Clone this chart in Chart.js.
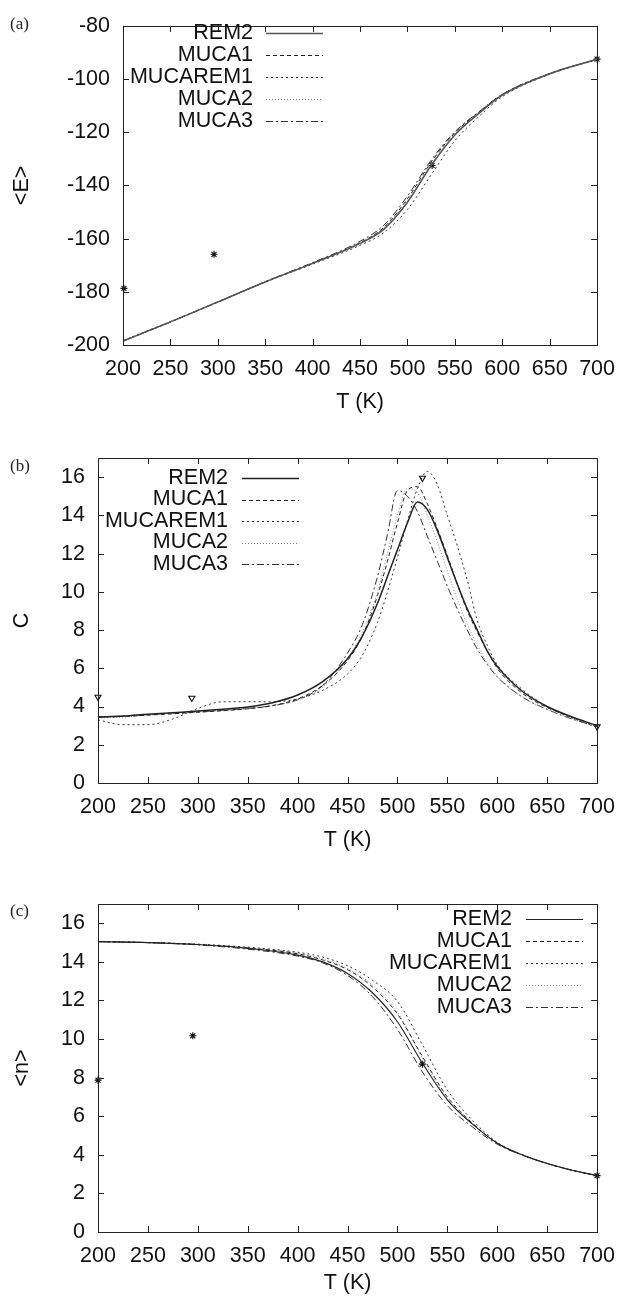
<!DOCTYPE html>
<html>
<head>
<meta charset="utf-8">
<script src="https://cdn.jsdelivr.net/npm/chart.js@4.4.1/dist/chart.umd.min.js"></script>
<style>
body { margin: 0; background: #fff; width: 626px; height: 1296px; position: relative; overflow: hidden; }
canvas { position: absolute; left: 0; }
.tag { position: absolute; left: 10px; font-family: "Liberation Serif", "DejaVu Serif", serif; font-size: 17px; color: #222; }
</style>
</head>
<body>
<canvas id="panel_a" width="626" height="420" style="top:0px"></canvas>
<canvas id="panel_b" width="626" height="440" style="top:420px"></canvas>
<canvas id="panel_c" width="626" height="436" style="top:860px"></canvas>
<div class="tag" style="top:14px">(a)</div>
<div class="tag" style="top:456px">(b)</div>
<div class="tag" style="top:901px">(c)</div>
<script>
// ---- (a) mean energy <E> ----
const tempA = [200, 250, 300, 350, 400, 450, 475, 500, 525, 550, 575, 600, 650, 700];
const eRem2     = [-198.5, -191.3, -183.8, -176.3, -169.3, -161.8, -156.5, -146.3, -132.5, -121.0, -113.0, -106.0, -98.0, -92.5];
const eMuca1    = [-198.5, -191.3, -183.8, -176.2, -169.2, -161.5, -155.8, -145.0, -131.2, -120.2, -112.6, -105.8, -98.0, -92.5];
const eMucarem1 = [-198.3, -191.2, -183.8, -176.4, -169.6, -162.5, -157.8, -149.0, -136.0, -123.2, -114.2, -106.6, -98.2, -92.6];
const eMuca2    = [-198.6, -191.4, -183.9, -176.3, -169.3, -161.6, -156.0, -145.5, -132.0, -120.6, -112.8, -105.9, -98.0, -92.5];
const eMuca3    = [-198.6, -191.4, -183.9, -176.2, -169.0, -161.0, -155.0, -144.0, -130.5, -119.8, -112.4, -105.7, -97.9, -92.5];
const markTA = [201, 296, 526, 700];
const markE  = [-178.7, -165.9, -132.5, -92.5];

// ---- (b) specific heat C ----
const tempB = [200, 225, 250, 275, 300, 325, 350, 375, 400, 425, 450, 465, 480, 490, 500, 510, 520, 530, 540, 550, 560, 570, 580, 590, 600, 625, 650, 675, 700];
const cRem2     = [3.45, 3.5, 3.6, 3.68, 3.76, 3.86, 3.98, 4.2, 4.6, 5.3, 6.5, 7.7, 9.4, 10.8, 12.2, 13.6, 14.7, 14.3, 13.2, 11.8, 10.4, 9.1, 8.0, 6.9, 6.1, 4.8, 4.0, 3.45, 3.0];
const cMuca1    = [3.45, 3.48, 3.55, 3.62, 3.7, 3.78, 3.88, 4.05, 4.4, 5.1, 6.4, 7.7, 9.8, 11.6, 13.6, 15.3, 15.5, 14.6, 13.3, 11.9, 10.4, 9.0, 7.9, 6.9, 6.0, 4.7, 3.95, 3.45, 3.0];
const cMucarem1 = [3.3, 3.05, 3.05, 3.35, 3.9, 4.25, 4.25, 4.25, 4.4, 4.85, 5.7, 6.7, 8.4, 10.0, 11.8, 13.7, 15.4, 16.3, 15.6, 14.0, 12.4, 10.6, 8.5, 7.2, 6.2, 4.9, 4.0, 3.4, 2.9];
const cMuca2    = [3.4, 3.45, 3.55, 3.65, 3.72, 3.8, 3.9, 4.05, 4.35, 5.0, 6.5, 7.9, 10.0, 12.0, 14.0, 15.4, 15.2, 14.0, 12.6, 11.1, 9.6, 8.3, 7.2, 6.3, 5.6, 4.5, 3.85, 3.35, 2.95];
const cMuca3    = [3.45, 3.5, 3.58, 3.66, 3.72, 3.8, 3.9, 4.05, 4.35, 5.1, 6.8, 8.3, 10.8, 13.0, 15.3, 15.0, 14.2, 12.9, 11.6, 10.3, 9.1, 8.0, 7.0, 6.2, 5.55, 4.5, 3.85, 3.35, 2.95];
const markTB = [200, 294, 525, 700];
const markC  = [4.5, 4.45, 15.95, 2.95];

// ---- (c) mean number of helical residues <n> ----
const tempC = [200, 250, 300, 350, 400, 425, 450, 475, 500, 525, 550, 575, 600, 625, 650, 675, 700];
const nRem2     = [15.05, 15.0, 14.9, 14.7, 14.35, 14.0, 13.4, 12.4, 10.9, 8.75, 6.85, 5.6, 4.6, 4.0, 3.55, 3.2, 2.92];
const nMuca1    = [15.05, 15.0, 14.9, 14.72, 14.42, 14.1, 13.6, 12.7, 11.3, 9.1, 7.0, 5.65, 4.6, 4.0, 3.55, 3.2, 2.92];
const nMucarem1 = [15.05, 15.0, 14.92, 14.76, 14.5, 14.25, 13.8, 13.05, 11.95, 9.7, 7.35, 5.8, 4.65, 4.0, 3.55, 3.2, 2.92];
const nMuca2    = [15.05, 15.0, 14.9, 14.72, 14.45, 14.15, 13.65, 12.8, 11.4, 9.0, 6.9, 5.6, 4.6, 4.0, 3.55, 3.2, 2.92];
const nMuca3    = [15.05, 15.0, 14.88, 14.66, 14.3, 13.95, 13.3, 12.2, 10.5, 8.3, 6.55, 5.45, 4.55, 3.98, 3.55, 3.2, 2.92];
const markTC = [200, 295, 525, 700];
const markN  = [7.87, 10.17, 8.7, 2.92];

const seriesNames = ['REM2', 'MUCA1', 'MUCAREM1', 'MUCA2', 'MUCA3'];
const FONT = '"Liberation Sans", Arial, sans-serif';
const FSIZE = 21.5;

function pairs(xs, ys) {
    return xs.map((x, i) => ({x: x, y: ys[i]}));
}

// line styles per series: solid, dashed, dotted, fine dotted, dash-dot
function curveSets(xs, list, remColor, remWidth) {
    const styles = [
        {color: remColor, width: remWidth, dash: []},
        {color: '#222', width: 1, dash: [4, 3]},
        {color: '#333', width: 1, dash: [2, 3]},
        {color: '#888', width: 1, dash: [1, 2]},
        {color: '#333', width: 1, dash: [7, 3, 2, 3]}
    ];
    return list.map((ys, i) => ({
        label: seriesNames[i],
        data: pairs(xs, ys),
        borderColor: styles[i].color,
        borderWidth: styles[i].width,
        borderDash: styles[i].dash,
        pointRadius: 0,
        fill: false,
        cubicInterpolationMode: 'monotone'
    }));
}

function markSet(xs, ys, style, rot) {
    return {
        label: '',
        data: pairs(xs, ys),
        showLine: false,
        clip: false,
        pointStyle: style,
        rotation: rot,
        pointRadius: 3.5,
        borderColor: '#111',
        backgroundColor: 'rgba(0,0,0,0)',
        borderWidth: 1.1
    };
}

// box, inward ticks and gnuplot style key
const framePlugin = {
    id: 'frame',
    afterDatasetsDraw(chart, args, opts) {
        const ctx = chart.ctx;
        const a = chart.chartArea;
        const xs = chart.scales.x, ys = chart.scales.y;
        ctx.save();
        ctx.strokeStyle = '#222';
        ctx.lineWidth = 1;
        ctx.setLineDash([]);
        ctx.beginPath();
        xs.ticks.forEach(t => {
            const px = Math.round(xs.getPixelForValue(t.value)) + 0.5;
            ctx.moveTo(px, a.bottom); ctx.lineTo(px, a.bottom - 6);
            ctx.moveTo(px, a.top); ctx.lineTo(px, a.top + 6);
        });
        ys.ticks.forEach(t => {
            const py = Math.round(ys.getPixelForValue(t.value)) + 0.5;
            ctx.moveTo(a.left, py); ctx.lineTo(a.left + 6, py);
            ctx.moveTo(a.right, py); ctx.lineTo(a.right - 6, py);
        });
        ctx.stroke();
        ctx.strokeRect(Math.round(a.left) + 0.5, Math.round(a.top) + 0.5, Math.round(a.right - a.left), Math.round(a.bottom - a.top));

        // key
        ctx.font = FSIZE + 'px ' + FONT;
        ctx.fillStyle = '#111';
        ctx.textAlign = 'right';
        ctx.textBaseline = 'middle';
        let row = 0;
        chart.data.datasets.forEach(ds => {
            if (ds.showLine === false) return;
            const y = opts.y + row * opts.dy;
            ctx.fillText(ds.label, opts.x, y);
            ctx.strokeStyle = ds.borderColor;
            ctx.lineWidth = ds.borderWidth;
            ctx.setLineDash(ds.borderDash || []);
            ctx.beginPath();
            ctx.moveTo(opts.x0, Math.round(y) + 0.5);
            ctx.lineTo(opts.x1, Math.round(y) + 0.5);
            ctx.stroke();
            row++;
        });
        ctx.restore();
    }
};

function panelOptions(yMin, yMax, yStep, yTitle, leftW, padTop, xH, xTitlePad, key) {
    return {
        responsive: false,
        animation: false,
        devicePixelRatio: 1,
        layout: {padding: {top: padTop, right: 18, left: 0, bottom: 0}},
        plugins: {
            legend: {display: false},
            tooltip: {enabled: false},
            frame: key
        },
        scales: {
            x: {
                type: 'linear',
                min: 200,
                max: 700,
                grid: {display: false, drawTicks: false},
                border: {display: false},
                ticks: {stepSize: 50, autoSkip: false, maxRotation: 0, padding: 11, color: '#111', font: {family: FONT, size: FSIZE}},
                title: {display: true, text: 'T (K)', color: '#111', font: {family: FONT, size: FSIZE}, padding: {top: 4, bottom: xTitlePad}},
                afterFit: s => { s.height = xH; }
            },
            y: {
                type: 'linear',
                min: yMin,
                max: yMax,
                grid: {display: false, drawTicks: false},
                border: {display: false},
                ticks: {stepSize: yStep, padding: 13, color: '#111', font: {family: FONT, size: FSIZE}},
                title: {display: true, text: yTitle, color: '#111', font: {family: FONT, size: FSIZE}, padding: {top: 9, bottom: 0}},
                afterBuildTicks: s => {
                    const list = [];
                    for (let v = yMin; v <= yMax; v += yStep) list.push({value: v});
                    s.ticks = list;
                },
                afterFit: s => { s.width = leftW; }
            }
        }
    };
}

// (a) <E>
new Chart(document.getElementById('panel_a'), {
    type: 'line',
    data: {
        datasets: curveSets(tempA, [eRem2, eMuca1, eMucarem1, eMuca2, eMuca3], '#555', 1.5)
            .concat([markSet(markTA, markE, 'star', 0)])
    },
    options: panelOptions(-200, -80, 20, '<E>', 123, 18, 75, 5, {x: 253, y: 33, dy: 22, x0: 266, x1: 323}),
    plugins: [framePlugin]
});

// (b) C
new Chart(document.getElementById('panel_b'), {
    type: 'line',
    data: {
        datasets: curveSets(tempB, [cRem2, cMuca1, cMucarem1, cMuca2, cMuca3], '#222', 1.5)
            .concat([markSet(markTB, markC, 'triangle', 180)])
    },
    options: panelOptions(0, 17, 2, 'C', 98, 38, 77, 7, {x: 228, y: 58, dy: 21.5, x0: 242, x1: 299}),
    plugins: [framePlugin]
});

// (c) <n>
new Chart(document.getElementById('panel_c'), {
    type: 'line',
    data: {
        datasets: curveSets(tempC, [nRem2, nMuca1, nMucarem1, nMuca2, nMuca3], '#222', 1.1)
            .concat([markSet(markTC, markN, 'star', 0)])
    },
    options: panelOptions(0, 17, 2, '<n>', 98, 44, 64, 0, {x: 512, y: 59, dy: 22, x0: 526, x1: 583}),
    plugins: [framePlugin]
});
</script>
</body>
</html>
